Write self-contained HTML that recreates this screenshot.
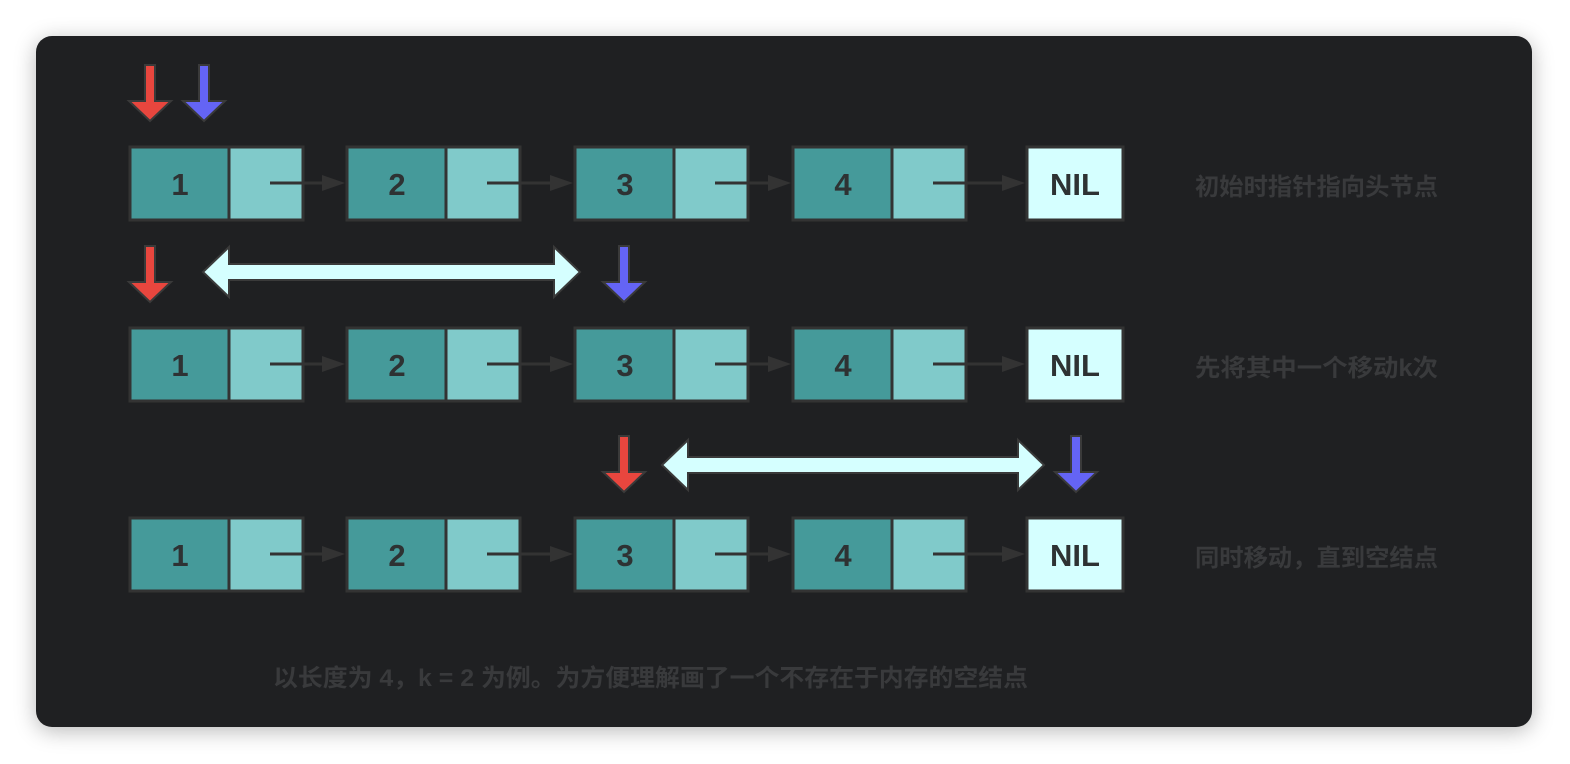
<!DOCTYPE html>
<html><head><meta charset="utf-8">
<style>
html,body{margin:0;padding:0;background:#fff;width:1570px;height:764px;overflow:hidden}
#card{position:absolute;left:36px;top:36px;width:1496px;height:691px;background:#1f2022;border-radius:16px;box-shadow:0 4px 22px rgba(0,0,0,0.28)}
svg{position:absolute;left:0;top:0}
text{font-family:"Liberation Sans","Noto Sans CJK SC",sans-serif}
</style></head>
<body>
<div id="card"></div>
<svg id="s" width="1570" height="764"></svg>
<script>
const values=["1","2","3","4"];
const nodeX=[130,347,575,793];
const nilX=1027;
const rowY=[147,328,518];
const labels=["初始时指针指向头节点","先将其中一个移动k次","同时移动，直到空结点"];
const NS="http://www.w3.org/2000/svg";
const s=document.getElementById('s');
function el(t,a,p){const e=document.createElementNS(NS,t);for(const k in a)e.setAttribute(k,a[k]);(p||s).appendChild(e);return e;}
rowY.forEach((y,r)=>{
  const g=el('g',{});
  
  
  values.forEach((v,i)=>{
    const x=nodeX[i];
    const n=el('g',{},g);
    
    
    el('rect',{x:x,y:y,width:99,height:73,fill:'#459a9a',stroke:'#333',"stroke-width":3},n);
    el('rect',{x:x+99,y:y,width:74,height:73,fill:'#80caca',stroke:'#333',"stroke-width":3},n);
    const t=el('text',{x:x+50,y:y+48,"text-anchor":"middle","font-size":31,"font-weight":"bold",fill:'#2e3233'},n);t.textContent=v;
    const nx=i<3?nodeX[i+1]:nilX;
    const a=el('g',{},g);
    
    
    el('line',{x1:x+140,y1:y+36,x2:nx-18,y2:y+36,stroke:'#333',"stroke-width":3},a);
    el('polygon',{points:`${nx-2},${y+36} ${nx-25},${y+28} ${nx-25},${y+44}`,fill:'#333'},a);
  });
  const nl=el('g',{},g);
  
  
  el('rect',{x:nilX,y:y,width:96,height:73,fill:'#d5ffff',stroke:'#333',"stroke-width":3},nl);
  const t=el('text',{x:nilX+48,y:y+48,"text-anchor":"middle","font-size":31,"font-weight":"bold",fill:'#2e3233'},nl);t.textContent='NIL';
  const lb=el('text',{x:1195,y:y+48,"font-size":24,"font-weight":"bold",fill:'#393a3c',textLength:243,lengthAdjust:'spacingAndGlyphs'});
  
  
  lb.textContent=labels[r];
});
function down(cx,top,color,name){
  const p=el('polygon',{points:`${cx-5},${top} ${cx+5},${top} ${cx+5},${top+36} ${cx+21},${top+36} ${cx},${top+56} ${cx-21},${top+36} ${cx-5},${top+36}`,fill:color,stroke:'#3a3a3a',"stroke-width":2});
  
  
}
function dbl(x1,x2,cy,name){
  const h=26,hw=25,t=8;
  const p=el('polygon',{points:`${x1},${cy} ${x1+h},${cy-hw} ${x1+h},${cy-t} ${x2-h},${cy-t} ${x2-h},${cy-hw} ${x2},${cy} ${x2-h},${cy+hw} ${x2-h},${cy+t} ${x1+h},${cy+t} ${x1+h},${cy+hw}`,fill:'#d5ffff',stroke:'#3a3a3a',"stroke-width":2});
  
  
}
down(150,65,'#e8463e','red-pointer-row1');
down(204,65,'#6464f5','blue-pointer-row1');
down(150,246,'#e8463e','red-pointer-row2');
down(624,246,'#6464f5','blue-pointer-row2');
down(624,436,'#e8463e','red-pointer-row3');
down(1076,436,'#6464f5','blue-pointer-row3');
dbl(203,580,272,'k-distance-arrow-row2');
dbl(662,1044,465,'k-distance-arrow-row3');
const cap=el('text',{x:273,y:686,"font-size":24,"font-weight":"bold",fill:'#393a3c',textLength:755,lengthAdjust:'spacingAndGlyphs'});


cap.textContent='以长度为 4，k = 2 为例。为方便理解画了一个不存在于内存的空结点';
</script>
</body></html>
